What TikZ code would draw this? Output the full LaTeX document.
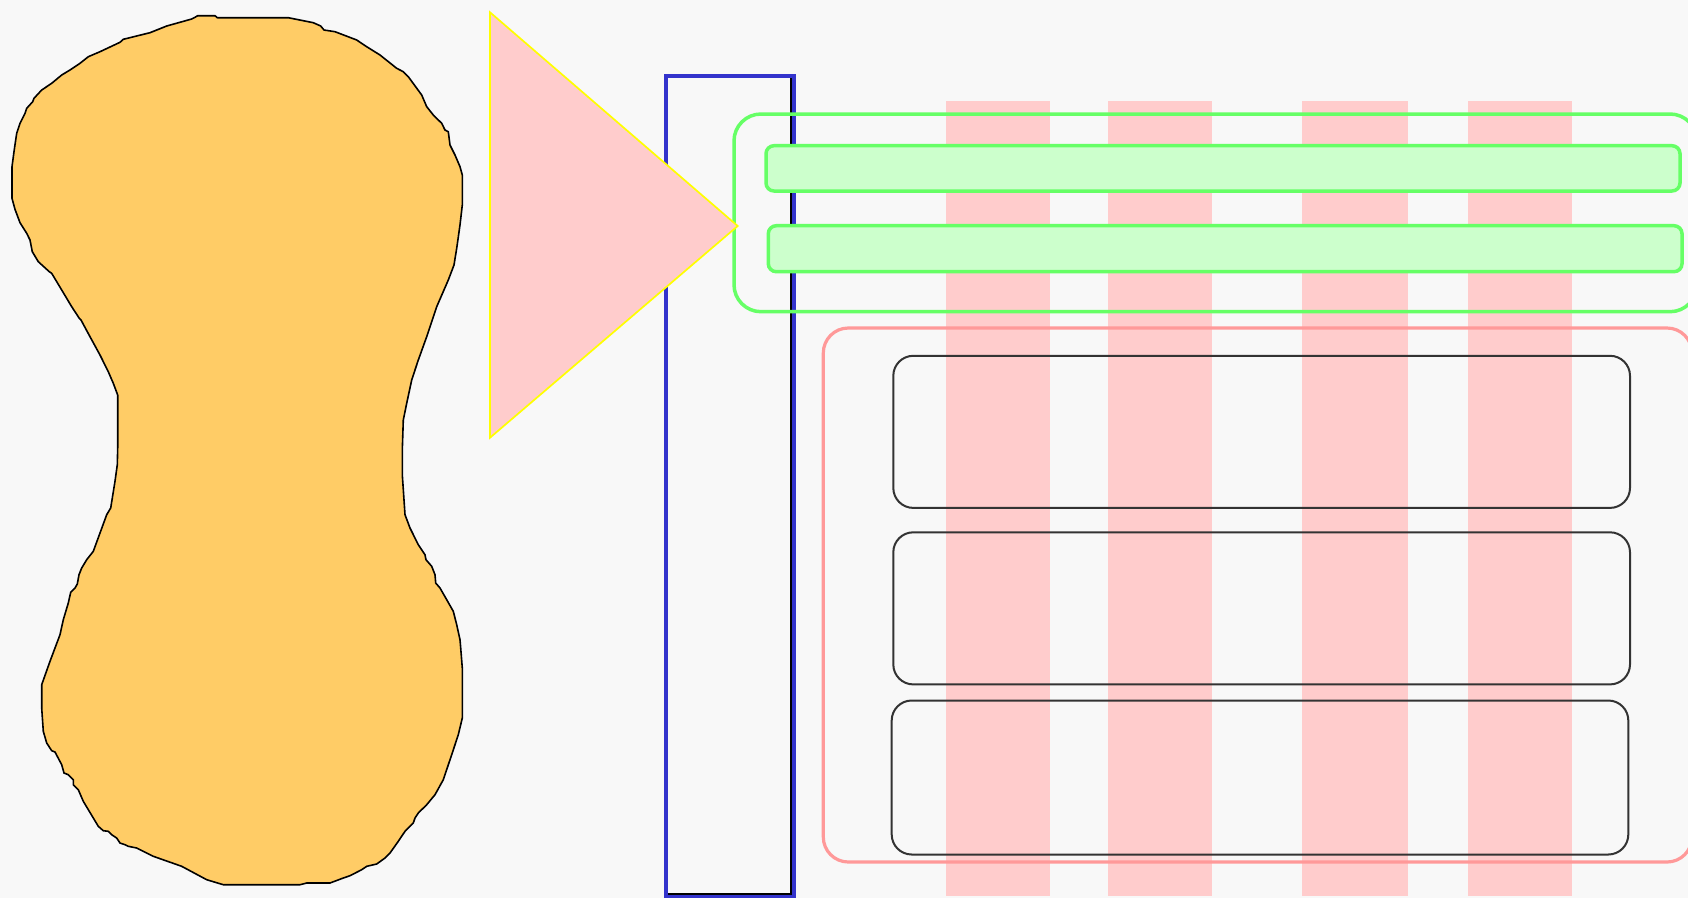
\documentclass[tikz,border=0pt]{standalone}
\usepackage{tikz}
\definecolor{paper}{HTML}{F8F8F8}
\definecolor{blobfill}{HTML}{FFCC66}
\definecolor{pinkfill}{HTML}{FFCCCC}
\definecolor{lineyellow}{HTML}{FFFF00}
\definecolor{lineblue}{HTML}{3333CC}
\definecolor{linegreen}{HTML}{66FF66}
\definecolor{greenfill}{HTML}{CCFFCC}
\definecolor{linered}{HTML}{FF9999}
\definecolor{linedark}{HTML}{333333}
\tikzset{
	stripe/.style={fill=pinkfill, draw=none},
	greenbar/.style={draw=linegreen, fill=greenfill, line width=3.5pt, rounded corners=8pt},
	darkbox/.style={draw=linedark, line width=2pt, rounded corners=20pt},
}

\begin{document}
\begin{tikzpicture}[x=1pt, y=-1pt]
			%%%%% START %%%%%
			
			\fill[paper] (0, 0) rectangle (1688, 898);
			\useasboundingbox (0, 0) rectangle (1688, 898);
			
			% blob
			\draw[fill=blobfill, line width=1.6pt, line join=round] (197.7, 15.7) -- (215, 15.7) -- (217.3, 17.7) -- (288.3, 17.7) -- (313.3, 22.7) -- (320.7, 26) -- (324, 30) -- (335, 31.7) -- (356.7, 40) -- (366.7, 46.7) -- (380, 55) -- (396.7, 68.3) -- (403.3, 71.7) -- (408.3, 76.7) -- (421.7, 95) -- (426.7, 106.7) -- (433.3, 115) -- (441.7, 123.3) -- (445, 130) -- (448.3, 131.7) -- (450, 145) -- (455, 155) -- (460, 166.7) -- (462.3, 175) -- (462.3, 205) -- (460, 225) -- (456.7, 248.3) -- (454, 265) -- (448.3, 280) -- (436.7, 306.7) -- (426.7, 336.7) -- (418.3, 360) -- (411.7, 380) -- (406.7, 403.3) -- (403.3, 420) -- (402.3, 450) -- (402.3, 474.7) -- (405, 514.7) -- (410, 528) -- (418.3, 544.7) -- (425, 554.7) -- (426, 559.7) -- (431.7, 566.3) -- (435, 574.7) -- (435.7, 583) -- (440, 588) -- (446.7, 599.7) -- (453.3, 611.3) -- (456.7, 624.7) -- (460, 639.7) -- (460.7, 648) -- (462.3, 668) -- (462.3, 718) -- (458.3, 734.7) -- (451.7, 754.7) -- (443.3, 779.7) -- (435, 794.7) -- (426.7, 804.7) -- (418.3, 813) -- (415, 818) -- (413.3, 823) -- (405, 831.3) -- (398.3, 841.3) -- (390, 853) -- (385, 858) -- (376.7, 864) -- (366.7, 866.3) -- (361.7, 869.7) -- (350, 875.7) -- (343.3, 878) -- (330, 883) -- (306.7, 883) -- (300, 884.7) -- (223.3, 884.7) -- (206.7, 879.7) -- (181.7, 866.3) -- (153.3, 856.3) -- (143.3, 851.3) -- (136.7, 848) -- (128.3, 846.3) -- (125, 844.7) -- (120, 843) -- (116.7, 838) -- (111.7, 834.7) -- (108.3, 831.3) -- (103.3, 830.7) -- (98.3, 826.3) -- (83.3, 801.3) -- (78.3, 789.7) -- (73.3, 784.7) -- (73.3, 779.7) -- (68.3, 774.7) -- (64, 773) -- (61.7, 764.7) -- (55, 752) -- (51.7, 750.7) -- (46.7, 743) -- (43.3, 731.3) -- (41.7, 708) -- (41.7, 684.7) -- (50, 661.3) -- (55, 648) -- (60, 634.7) -- (63.3, 619.7) -- (68.3, 603) -- (70.7, 592.3) -- (75, 588) -- (77.3, 584) -- (79, 574.7) -- (81.7, 568) -- (86.7, 559.7) -- (93.3, 551.3) -- (100, 533) -- (106.7, 514.7) -- (110.7, 508) -- (115, 481.3) -- (117.3, 464.7) -- (117.7, 448) -- (117.7, 395) -- (113.3, 383.3) -- (108.3, 371.7) -- (100, 355) -- (90, 336.7) -- (81, 320) -- (79.3, 318.3) -- (71.7, 306.7) -- (51.7, 273.3) -- (49.3, 271.7) -- (38.3, 261.7) -- (32.3, 251.7) -- (30, 240) -- (26.7, 233.3) -- (20, 222.7) -- (15, 209.3) -- (12, 198.3) -- (12, 166.7) -- (14, 151.7) -- (15.7, 140) -- (16.7, 133.3) -- (20, 123.3) -- (25, 113.3) -- (26.7, 108.3) -- (32.7, 101.7) -- (34, 98.3) -- (41.7, 90) -- (51.7, 83.3) -- (61.7, 75) -- (70, 70) -- (80, 63.3) -- (88.3, 56.7) -- (100, 51.7) -- (120, 42.3) -- (123.3, 39.3) -- (150, 32.7) -- (166.7, 26) -- (191.7, 19) -- (195, 17.3) -- cycle;
			
			% blue frame
			\draw[draw=lineblue, line width=4pt] (665.8, 76.3) rectangle (793.8, 895.8);
			\draw[line width=1.7pt] (790.9, 78.3) -- (790.9, 894.2) -- (667.8, 894.2);
			
			% stripes
			\foreach \xa/\xb in {946/1050, 1108/1212, 1302/1408, 1468/1572}
				\fill[stripe] (\xa, 100.5) rectangle (\xb, 896);
			
			% green group
			\draw[draw=linegreen, line width=3.5pt, rounded corners=27pt] (734, 114) rectangle (1697, 311.7);
			\draw[greenbar] (766, 145.7) rectangle (1680, 191);
			\draw[greenbar] (768.3, 225.7) rectangle (1682, 271.7);
			
			% triangle
			\draw[fill=pinkfill, draw=lineyellow, line width=1.7pt] (490, 12.3) -- (737.7, 226) -- (490, 437.7) -- cycle;
			
			% red group
			\draw[draw=linered, line width=3.2pt, rounded corners=25pt] (823.3, 328) rectangle (1692, 862);
			\draw[darkbox] (893.3, 355.8) rectangle (1630, 507.9);
			\draw[darkbox] (893.3, 532.3) rectangle (1630, 684.4);
			\draw[darkbox] (891.7, 700.5) rectangle (1628.3, 854.5);
			
			%%%%% END %%%%%
\end{tikzpicture}
\end{document}
